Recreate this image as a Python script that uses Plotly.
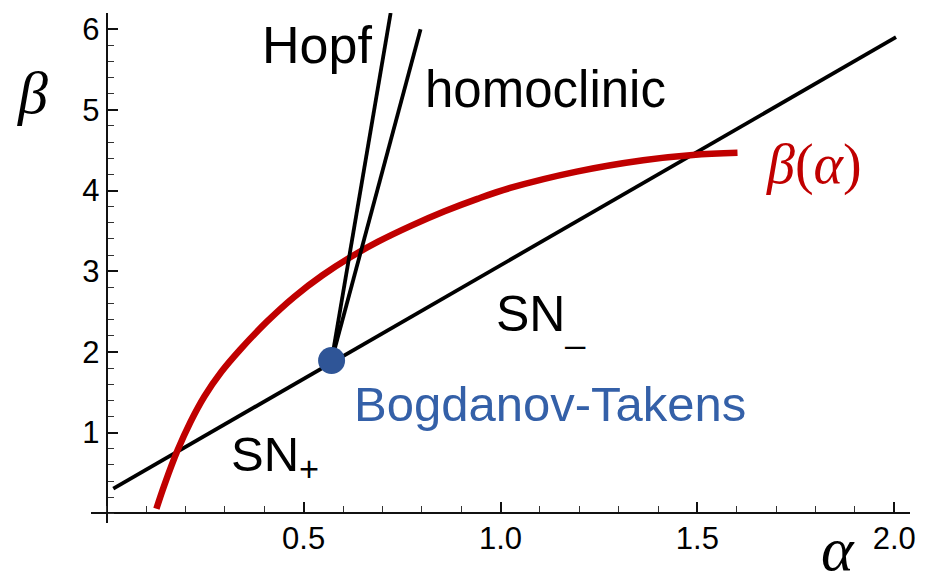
import plotly.graph_objects as go

# ---- data ----
sn_alpha = [0.0166, 2.0045]
sn_beta = [0.306, 5.90]

hopf_alpha = [0.571, 0.721]
hopf_beta = [1.894, 6.20]

homo_alpha = [0.571, 0.797]
homo_beta = [1.894, 6.00]

bt_alpha = [0.571]
bt_beta = [1.894]

red_alpha = [0.1261, 0.1470, 0.1798, 0.2126, 0.2479, 0.2907, 0.3386, 0.4067,
             0.4773, 0.5479, 0.6185, 0.6891, 0.7723, 0.8580, 0.9413, 1.0245,
             1.1934, 1.3623, 1.4884, 1.6019]
red_beta = [0.058, 0.359, 0.780, 1.132, 1.448, 1.751, 2.027, 2.375,
            2.688, 2.950, 3.173, 3.366, 3.562, 3.743, 3.897, 4.032,
            4.235, 4.376, 4.441, 4.468]

x_tickvals = [0.5, 1.0, 1.5, 2.0]
x_ticktext = ["0.5", "1.0", "1.5", "2.0"]
y_tickvals = [1, 2, 3, 4, 5, 6]
y_ticktext = ["1", "2", "3", "4", "5", "6"]

XR = [-0.04, 2.04]
YR = [-0.12, 6.2]

BLACK = "#000000"
RED = "#c00000"
BLUE = "#2f5597"
SANS = "Liberation Sans, Arial, sans-serif"
NARROW = "Liberation Sans Narrow, Arial Narrow, Liberation Sans, sans-serif"
SERIF = "Liberation Serif, Times New Roman, serif"

fig = go.Figure()
fig.add_trace(go.Scatter(x=sn_alpha, y=sn_beta, mode="lines",
                         line=dict(color=BLACK, width=3.8), hoverinfo="skip"))
fig.add_trace(go.Scatter(x=red_alpha, y=red_beta, mode="lines",
                         line=dict(color=RED, width=6.5, shape="spline", smoothing=1.0),
                         hoverinfo="skip"))
fig.add_trace(go.Scatter(x=hopf_alpha, y=hopf_beta, mode="lines",
                         line=dict(color=BLACK, width=3.8), hoverinfo="skip"))
fig.add_trace(go.Scatter(x=homo_alpha, y=homo_beta, mode="lines",
                         line=dict(color=BLACK, width=3.8), hoverinfo="skip"))
fig.add_trace(go.Scatter(x=bt_alpha, y=bt_beta, mode="markers",
                         marker=dict(color=BLUE, size=27, line=dict(width=0)),
                         hoverinfo="skip"))

ypos = (0 - YR[0]) / (YR[1] - YR[0])
xpos = (0 - XR[0]) / (XR[1] - XR[0])

fig.update_layout(
    width=928, height=583,
    margin=dict(l=91, r=12, t=12, b=60),
    paper_bgcolor="white", plot_bgcolor="white",
    showlegend=False,
    xaxis=dict(range=XR, anchor="free", position=ypos,
               showgrid=False, zeroline=False,
               showline=True, linecolor="#111", linewidth=2,
               tickmode="array", tickvals=x_tickvals, ticktext=x_ticktext,
               ticks="inside", ticklen=10, tickwidth=1.6, tickcolor="#111",
               ticklabelstandoff=-3,
               minor=dict(dtick=0.1, tick0=0, ticks="inside", ticklen=6,
                          tickwidth=1.3, tickcolor="#333"),
               tickfont=dict(family=SANS, size=31, color="#000")),
    yaxis=dict(range=YR, anchor="free", position=xpos,
               showgrid=False, zeroline=False,
               showline=True, linecolor="#111", linewidth=2,
               tickmode="array", tickvals=y_tickvals, ticktext=y_ticktext,
               ticks="inside", ticklen=10, tickwidth=1.6, tickcolor="#111",
               ticklabelstandoff=0,
               minor=dict(dtick=0.2, tick0=0, ticks="inside", ticklen=6,
                          tickwidth=1.3, tickcolor="#333"),
               tickfont=dict(family=SANS, size=31, color="#000")),
)

def txt(x, y, s, size, color=BLACK, family=SANS, ref="data", xanchor="center", yanchor="middle"):
    xr, yr = ("x", "y") if ref == "data" else ("paper", "paper")
    fig.add_annotation(x=x, y=y, xref=xr, yref=yr, text=s, showarrow=False,
                       xanchor=xanchor, yanchor=yanchor,
                       font=dict(family=family, size=size, color=color))

# axis titles (paper coords)
txt(-0.072, 0.843, "<i>β</i>", 60, family=SERIF, ref="paper")
txt(0.912, -0.05, "<i>α</i>", 62, family=SERIF, ref="paper")

# region labels (data coords)
txt(0.535, 5.80, "Hopf", 52)
txt(1.115, 5.25, "homoclinic", 51)
txt(0.9845, 2.43, "SN<sub>_</sub>", 50, family=NARROW, xanchor="left")
txt(0.31, 0.69, "SN<sub>+</sub>", 49, family=NARROW, xanchor="left")
txt(1.125, 1.36, "Bogdanov-Takens", 49, color="#3460a8")
txt(1.795, 4.32, "<i>β</i>(<i>α</i>)", 56, color=RED, family=SERIF)

fig.write_html("out.html")
